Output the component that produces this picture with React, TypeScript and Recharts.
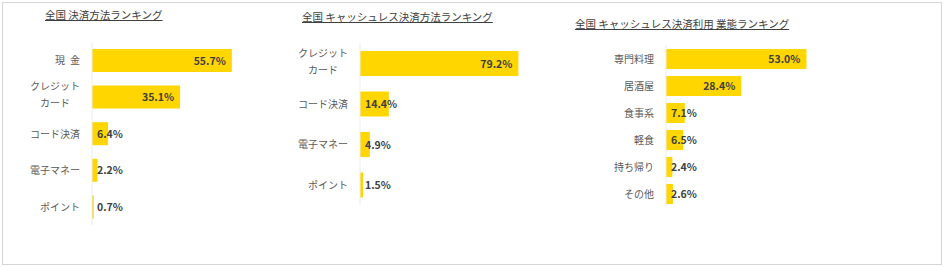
import { BarChart, Bar, XAxis, YAxis, LabelList } from 'recharts';

// 全国 決済方法ランキング
const methodNames = ['現\u2002金', 'クレジット\nカード', 'コード決済', '電子マネー', 'ポイント'];
const methodValues = [55.7, 35.1, 6.4, 2.2, 0.7];

// 全国 キャッシュレス決済方法ランキング
const cashlessNames = ['クレジット\nカード', 'コード決済', '電子マネー', 'ポイント'];
const cashlessValues = [79.2, 14.4, 4.9, 1.5];

// 全国 キャッシュレス決済利用 業態ランキング
const industryNames = ['専門料理', '居酒屋', '食事系', '軽食', '持ち帰り', 'その他'];
const industryValues = [53.0, 28.4, 7.1, 6.5, 2.4, 2.6];

const FONT = '"Noto Sans CJK JP", "Noto Sans", sans-serif';
const BAR = '#FFD600';

const toRows = (names: string[], values: number[]) =>
  names.map((name, i) => ({ name, value: values[i] }));

function CategoryTick(props: any) {
  const { x, y, payload } = props;
  const lines = String(payload.value).split('\n');
  if (lines.length === 1) {
    return (
      <text x={x} y={y} dy={4} textAnchor="end" fontSize={10} fill="#595959" fontFamily={FONT}>
        {lines[0]}
      </text>
    );
  }
  const blockW = Math.max(...lines.map((l) => l.length)) * 10;
  const cx = x - blockW / 2;
  const lh = 17;
  const top = y - 2 - ((lines.length - 1) * lh) / 2;
  return (
    <text textAnchor="middle" fontSize={10} fill="#595959" fontFamily={FONT}>
      {lines.map((l, i) => (
        <tspan key={i} x={cx} y={top + i * lh} dy={4}>
          {l}
        </tspan>
      ))}
    </text>
  );
}

function ValueLabel(props: any) {
  const { x, y, width, height, value } = props;
  const inside = width > 45;
  return (
    <text
      x={inside ? x + width - 6 : x + 5}
      y={y + height / 2}
      dy={4}
      textAnchor={inside ? 'end' : 'start'}
      fontSize={10.5}
      fontWeight="bold"
      fill="#404040"
      fontFamily={FONT}
    >
      {Number(value).toFixed(1)}%
    </text>
  );
}

type PanelProps = {
  names: string[];
  values: number[];
  left: number;
  width: number;
  axisX: number;
  top: number;
  bottom: number;
  max: number;
  plotW: number;
  barSize: number;
};

function Panel({ names, values, left, width, axisX, top, bottom, max, plotW, barSize }: PanelProps) {
  const data = toRows(names, values);
  return (
    <div style={{ position: 'absolute', left, top: 0 }}>
      <BarChart
        width={width}
        height={267}
        data={data}
        layout="vertical"
        margin={{ top, bottom: 267 - bottom, left: 0, right: width - axisX - plotW }}
      >
        <XAxis type="number" domain={[0, max]} hide />
        <YAxis
          type="category"
          dataKey="name"
          width={axisX}
          axisLine={{ stroke: '#ececec' }}
          tickLine={false}
          tickSize={0}
          tickMargin={12}
          interval={0}
          tick={<CategoryTick />}
        />
        <Bar dataKey="value" fill={BAR} barSize={barSize} isAnimationActive={false}>
          <LabelList dataKey="value" content={<ValueLabel />} />
        </Bar>
      </BarChart>
    </div>
  );
}

const titleStyle = (left: number, top: number): React.CSSProperties => ({
  position: 'absolute',
  left,
  top,
  fontFamily: FONT,
  fontSize: 10.5,
  lineHeight: '14px',
  color: '#404040',
  textDecoration: 'underline',
  whiteSpace: 'nowrap',
});

export default function App() {
  return (
    <div
      style={{
        position: 'absolute',
        left: 0,
        top: 0,
        width: 944,
        height: 267,
        background: '#fff',
        overflow: 'hidden',
      }}
    >
      <div
        style={{
          position: 'absolute',
          left: 2,
          top: 2,
          width: 938,
          height: 261,
          border: '1px solid #d6d6d6',
        }}
      />
      <Panel names={methodNames} values={methodValues} left={0} width={300} axisX={92} top={42} bottom={225} max={60} plotW={150.6} barSize={23} />
      <Panel names={cashlessNames} values={cashlessValues} left={290} width={280} axisX={70} top={43} bottom={205} max={100} plotW={200} barSize={25} />
      <Panel names={industryNames} values={industryValues} left={560} width={380} axisX={106} top={45} bottom={207} max={60} plotW={159} barSize={20} />
      <div style={titleStyle(45, 8)}>全国 決済方法ランキング</div>
      <div style={titleStyle(302, 10)}>全国 キャッシュレス決済方法ランキング</div>
      <div style={titleStyle(575, 17)}>全国 キャッシュレス決済利用 業態ランキング</div>
    </div>
  );
}
